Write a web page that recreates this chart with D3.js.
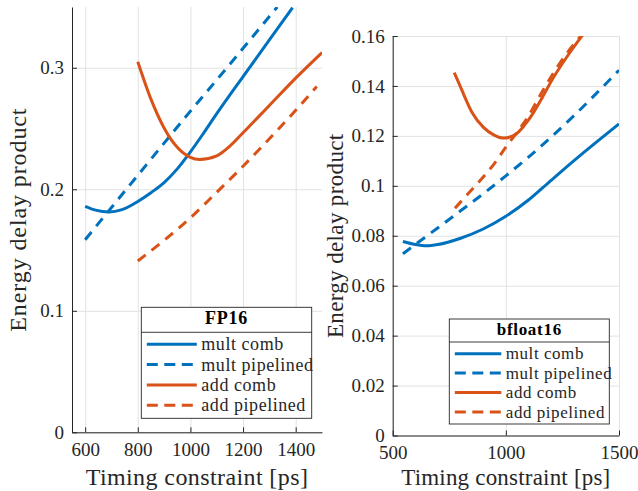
<!DOCTYPE html>
<html>
<head>
<meta charset="utf-8">
<script src="https://cdn.jsdelivr.net/npm/d3@7"></script>
<style>
body{margin:0;background:#fff;}
text{font-family:"Liberation Serif","Times New Roman",serif;}
</style>
</head>
<body>
<div id="chart"></div>
<script>
// values  [timing constraint (ps), energy delay product]
const seriesNames = ["mult comb","mult pipelined","add comb","add pipelined"];

const fp16MultComb = [[600,0.186],[640,0.1828],[690,0.1813],[740,0.1832],[800,0.190],[850,0.1972],[900,0.2055],
  [950,0.2168],[1000,0.2308],[1050,0.2462],[1100,0.2622],[1200,0.2927],[1300,0.3229],[1388,0.3495]];
const fp16MultPipe = [[600,0.1585],[700,0.185],[800,0.2115],[900,0.238],[1000,0.2643],[1100,0.290],
  [1200,0.316],[1330,0.350]];
const fp16AddComb = [[800,0.305],[850,0.2742],[900,0.2505],[950,0.2345],[1000,0.2262],[1035,0.2245],
  [1100,0.2275],[1150,0.2355],[1200,0.2465],[1300,0.269],[1400,0.2915],[1500,0.3125]];
const fp16AddPipe = [[800,0.141],[900,0.158],[1000,0.1765],[1100,0.1975],[1200,0.219],[1300,0.2415],
  [1400,0.265],[1480,0.2845]];

const bfMultComb = [[545,0.0777],[600,0.0765],[650,0.076],[700,0.0765],[800,0.079],[900,0.0827],
  [1000,0.0878],[1100,0.0943],[1200,0.1022],[1300,0.1100],[1400,0.1175],[1500,0.1248]];
const bfMultPipe = [[545,0.0728],[600,0.0765],[700,0.0832],[800,0.0900],[900,0.0968],[1000,0.1040],
  [1100,0.1115],[1200,0.1195],[1300,0.1280],[1400,0.1370],[1500,0.1463]];
const bfAddComb = [[772,0.1453],[800,0.1395],[850,0.1295],[900,0.1235],[950,0.1202],[990,0.1191],
  [1040,0.1204],[1080,0.124],[1120,0.129],[1160,0.1352],[1200,0.1418],[1270,0.1517],[1340,0.1605]];
const bfAddPipe = [[775,0.091],[850,0.0985],[900,0.1035],[950,0.109],[1000,0.1155],[1050,0.1215],
  [1100,0.128],[1165,0.1384],[1200,0.1437],[1270,0.1531],[1335,0.1604]];

const fp16XTicks = [600,800,1000,1200,1400];
const fp16YTicks = [0,0.1,0.2,0.3];
const bfXTicks = [500,1000,1500];
const bfYTicks = [0,0.02,0.04,0.06,0.08,0.1,0.12,0.14,0.16];

const blue = "#0072BD", orange = "#D95319";
const dash = "10,7.5";
const styles = [{c:blue,d:null},{c:blue,d:dash},{c:orange,d:null},{c:orange,d:dash}];
const ink = "#262626";

const svg = d3.select("#chart").append("svg").attr("width",638).attr("height",491);

var drawPanel = function(p){
  var x = d3.scaleLinear().domain(p.xDom).range([p.x0,p.x1]);
  var y = d3.scaleLinear().domain(p.yDom).range([p.y1,p.y0]);
  var g = svg.append("g");

  // grid
  g.append("g").attr("transform","translate(0,"+p.y1+")")
    .call(d3.axisBottom(x).tickValues(p.xTicks).tickSize(-(p.y1-p.y0)).tickFormat(""))
    .call(a=>a.select(".domain").remove())
    .selectAll("line").attr("stroke","#e2e2e2").attr("stroke-width",1);
  g.append("g").attr("transform","translate("+p.x0+",0)")
    .call(d3.axisLeft(y).tickValues(p.yTicks).tickSize(-(p.x1-p.x0)).tickFormat(""))
    .call(a=>a.select(".domain").remove())
    .selectAll("line").attr("stroke","#e2e2e2").attr("stroke-width",1);

  // curves
  var cid = "clip"+p.id;
  svg.append("clipPath").attr("id",cid).append("rect")
    .attr("x",p.x0).attr("y",p.y0).attr("width",p.x1-p.x0).attr("height",p.y1-p.y0);
  var line = d3.line().x(d=>x(d[0])).y(d=>y(d[1])).curve(d3.curveMonotoneX);
  g.append("g").attr("clip-path","url(#"+cid+")")
    .selectAll("path").data(p.series).enter().append("path")
    .attr("d",line)
    .attr("fill","none")
    .attr("stroke",(d,i)=>styles[i].c)
    .attr("stroke-width",3)
    .attr("stroke-dasharray",(d,i)=>styles[i].d);

  // axes
  g.append("g").attr("transform","translate(0,"+p.y1+")")
    .call(d3.axisBottom(x).tickValues(p.xTicks).tickSizeInner(-5).tickSizeOuter(0).tickPadding(10.5).tickFormat(d=>String(d)))
    .attr("color",ink).attr("font-size",19).attr("font-family",null);
  g.append("g").attr("transform","translate("+p.x0+",0)")
    .call(d3.axisLeft(y).tickValues(p.yTicks).tickSizeInner(-5).tickSizeOuter(0).tickPadding(8).tickFormat(d=>String(d)))
    .attr("color",ink).attr("font-size",19).attr("font-family",null);

  g.append("text")
    .attr("x",(p.x0+p.x1)/2).attr("y",485)
    .attr("text-anchor","middle").attr("fill",ink)
    .attr("font-size",p.labSize).attr("letter-spacing",p.xls)
    .text("Timing constraint [ps]");
  g.append("text")
    .attr("transform","translate("+p.ylx+","+((p.y0+p.y1)/2)+") rotate(-90)")
    .attr("text-anchor","middle").attr("fill",ink)
    .attr("font-size",p.labSize).attr("letter-spacing",p.yls)
    .text("Energy delay product");

  // legend
  var lg = g.append("g");
  lg.append("rect").attr("x",p.lx).attr("y",p.ly).attr("width",p.lw).attr("height",p.lh)
    .attr("fill","#fff").attr("stroke",ink).attr("stroke-width",0.9);
  lg.append("line").attr("x1",p.lx).attr("x2",p.lx+p.lw).attr("y1",p.ly+p.th).attr("y2",p.ly+p.th)
    .attr("stroke",ink).attr("stroke-width",0.9);
  lg.append("text").attr("x",p.lx+p.lw/2).attr("y",p.ly+p.tb)
    .attr("text-anchor","middle").attr("font-weight","bold").attr("fill","#000")
    .attr("font-size",p.legSize).attr("letter-spacing",0.7)
    .text(p.title);
  var rows = lg.selectAll("g.row").data(seriesNames).enter().append("g")
    .attr("transform",(d,i)=>"translate(0,"+(p.ly+p.th+p.r0+i*p.rh)+")");
  rows.append("line")
    .attr("x1",p.lx+5.5).attr("x2",p.lx+5.5+p.sw)
    .attr("stroke",(d,i)=>styles[i].c).attr("stroke-width",3)
    .attr("stroke-dasharray",(d,i)=>styles[i].d ? "11,6.5" : null);
  rows.append("text")
    .attr("x",p.lx+p.sw+10).attr("dy","0.33em").attr("fill",ink)
    .attr("font-size",p.legSize).attr("letter-spacing",0.55)
    .text(d=>d);
};

drawPanel({id:"fp16", x0:72, x1:322, y0:7, y1:432.3, xDom:[550,1500], yDom:[0,0.35],
  xTicks:fp16XTicks, yTicks:fp16YTicks,
  series:[fp16MultComb,fp16MultPipe,fp16AddComb,fp16AddPipe],
  labSize:24, xls:0.4, yls:0.9, ylx:26,
  title:"FP16", lx:141.3, ly:307.3, lw:170.4, lh:111, th:25, tb:17, r0:12, rh:20.3, sw:50, legSize:18});

drawPanel({id:"bf16", x0:392.7, x1:619, y0:36, y1:435.5, xDom:[500,1500], yDom:[0,0.16],
  xTicks:bfXTicks, yTicks:bfYTicks,
  series:[bfMultComb,bfMultPipe,bfAddComb,bfAddPipe],
  labSize:23, xls:0.2, yls:0.35, ylx:343,
  title:"bfloat16", lx:449.3, ly:319, lw:160, lh:105, th:23, tb:15.5, r0:11.7, rh:19.4, sw:46.5, legSize:17});
</script>
</body>
</html>
